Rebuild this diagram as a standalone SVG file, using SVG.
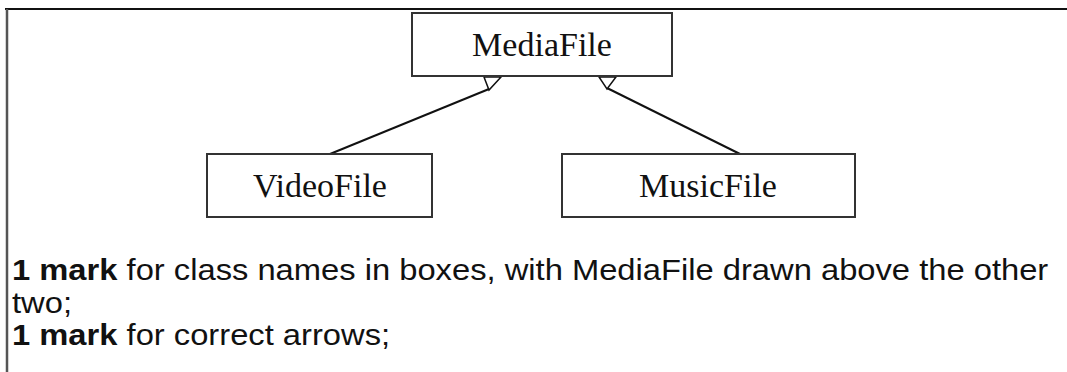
<svg xmlns="http://www.w3.org/2000/svg" width="1067" height="372" viewBox="0 0 1067 372">
<style>
.box{fill:#fff;stroke:#333;stroke-width:2}
.cls{font-family:"Liberation Serif",serif;font-size:34px;fill:#111;text-anchor:middle}
.line{stroke:#111;stroke-width:2;fill:none}
.head{fill:#fff;stroke:#111;stroke-width:1.5}
.note{font-family:"Liberation Sans",Arial,sans-serif;font-size:29px;fill:#111}
</style>
<rect width="1067" height="372" fill="#fff"/>
<line x1="5" y1="9" x2="1067" y2="9" stroke="#111" stroke-width="2"/>
<line x1="7" y1="9" x2="7" y2="372" stroke="#555" stroke-width="2.5"/>
<g id="connectors">
<line class="line" x1="489" y1="89" x2="330" y2="154"/>
<line class="line" x1="607" y1="88" x2="740" y2="154"/>
<polygon class="head" points="484,77 501,77 489,90"/>
<polygon class="head" points="599,77 616,77 607,89"/>
</g>
<g id="MediaFile">
<rect class="box" x="412" y="13" width="260" height="63"/>
<text class="cls" x="542" y="56">MediaFile</text>
</g>
<g id="VideoFile">
<rect class="box" x="207" y="154" width="225" height="63"/>
<text class="cls" x="320" y="197">VideoFile</text>
</g>
<g id="MusicFile">
<rect class="box" x="562" y="154" width="293" height="63"/>
<text class="cls" x="708" y="197">MusicFile</text>
</g>
<g transform="translate(12,0) scale(1.128,1)">
<text class="note" x="0" y="280"><tspan font-weight="bold">1 mark</tspan> for class names in boxes, with MediaFile drawn above the other</text>
<text class="note" x="0" y="313">two;</text>
<text class="note" x="0" y="345"><tspan font-weight="bold">1 mark</tspan> for correct arrows;</text>
</g>
</svg>
